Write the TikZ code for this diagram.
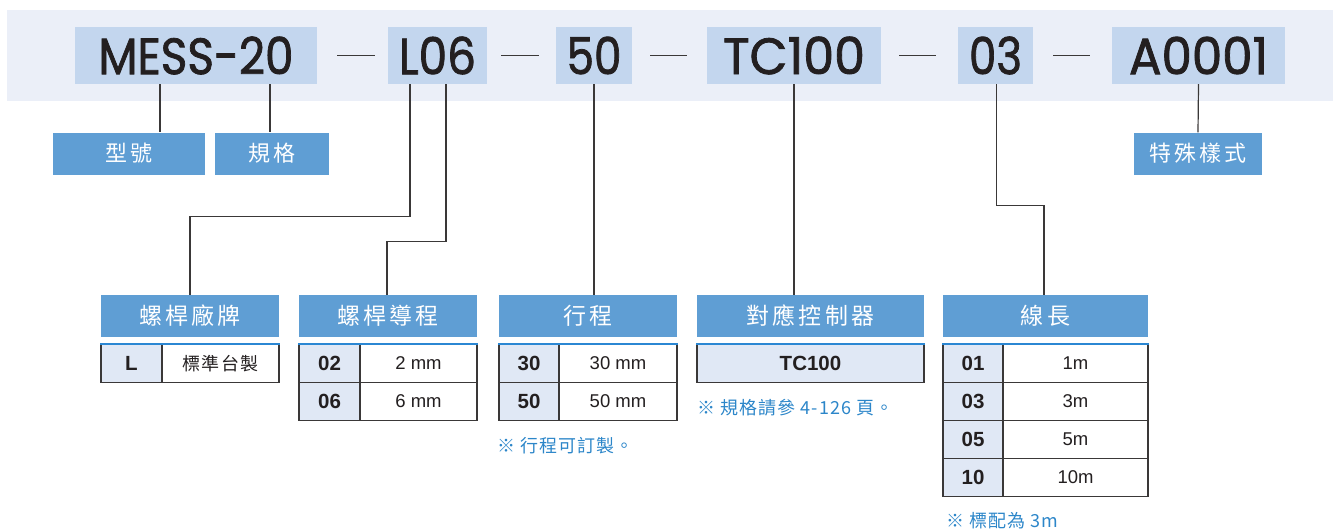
\documentclass[tikz,border=0pt]{standalone}
\usepackage{fontspec}
\usepackage{graphicx}
\newfontfamily\cjk{Noto Sans CJK TC}
\newfontfamily\cjkh[LetterSpace=14]{Noto Sans CJK TC}
\newfontfamily\cjkv[LetterSpace=8]{Noto Sans CJK TC}
\newfontfamily\cjkn[LetterSpace=6]{Noto Sans CJK TC}
\newfontfamily\arial{Liberation Sans}
\newfontfamily\codef[FakeBold=1.6]{Poppins}
\definecolor{bandcol}{HTML}{EBEFF8}
\definecolor{codefill}{HTML}{C3D6EE}
\definecolor{headfill}{HTML}{5F9ED4}
\definecolor{cellfill}{HTML}{E0E8F5}
\definecolor{linecol}{HTML}{3A3838}
\definecolor{notecol}{HTML}{2C86C9}
\definecolor{topblue}{HTML}{2B87D3}
\definecolor{inkcol}{HTML}{231F20}
\newcommand\codetxt[2]{\resizebox{#1}{\height}{\fontsize{51}{51}\codef #2}}
\tikzset{
  codebox/.style={fill=codefill, inner sep=0pt, minimum height=57pt, text=inkcol},
  labbox/.style={fill=headfill, inner sep=0pt, minimum height=42pt, text=white, font=\cjkh\fontsize{22}{22}\selectfont},
  headbox/.style={fill=headfill, inner sep=0pt, minimum height=42pt, text=white, font=\cjkh\fontsize{23}{23}\selectfont},
  keycell/.style={draw=linecol, line width=1.3pt, fill=cellfill, inner sep=0pt, minimum height=38pt, text=inkcol, font=\arial\bfseries\fontsize{20.5}{20.5}\selectfont},
  valcell/.style={draw=linecol, line width=1.3pt, fill=white, inner sep=0pt, minimum height=38pt, text=inkcol, font=\arial\fontsize{18.5}{18.5}\selectfont},
  cjkcell/.style={valcell, font=\cjkv\fontsize{18}{18}\selectfont},
  conn/.style={draw=linecol, line width=1.2pt},
  dashline/.style={draw=linecol, line width=1.3pt},
  topline/.style={draw=topblue, line width=1.6pt},
  note/.style={anchor=west, inner sep=0pt, text=notecol, font=\cjkn\fontsize{18}{18}\selectfont},
}
\begin{document}
\begin{tikzpicture}[x=1pt,y=-1pt]
\useasboundingbox (0,0) rectangle (1333,528);
\fill[bandcol] (7,10) rectangle (1333,100.7);

% top code boxes
\node[codebox, minimum width=242pt] (mess) at (196,55.5) {\codetxt{195pt}{MESS-20}};
\node[codebox, minimum width=99pt] (l06) at (437.5,55.5) {\codetxt{77pt}{L06}};
\node[codebox, minimum width=76pt] (f50) at (594,55.5) {\codetxt{55pt}{50}};
\node[codebox, minimum width=174pt] (tc) at (794,55.5) {\codetxt{142pt}{TC100}};
\node[codebox, minimum width=75pt] (c03) at (995.5,55.5) {\codetxt{53pt}{03}};
\node[codebox, minimum width=173pt] (a01) at (1198.5,55.5) {\codetxt{139pt}{A0001}};

% dashes between codes
\draw[dashline] ([xshift=20pt]mess.east) -- ([xshift=-13pt]l06.west);
\draw[dashline] ([xshift=14pt]l06.east) -- ([xshift=-17pt]f50.west);
\draw[dashline] ([xshift=18pt]f50.east) -- ([xshift=-20pt]tc.west);
\draw[dashline] ([xshift=18pt]tc.east) -- ([xshift=-22pt]c03.west);
\draw[dashline] ([xshift=20pt]c03.east) -- ([xshift=-22pt]a01.west);

% label boxes
\node[labbox, minimum width=152pt] (xh) at (129,153.5) {型號};
\node[labbox, minimum width=114pt] (gg) at (272,153.5) {規格};
\node[labbox, minimum width=128pt] (ts) at (1198,153.5) {特殊樣式};

\coordinate (k1) at (160,0);
\coordinate (k2) at (270,0);
\draw[conn] (k1 |- mess.south) -- (k1 |- xh.north);
\draw[conn] (k2 |- mess.south) -- (k2 |- gg.north);
\draw[conn] (a01.south) -- (ts.north);

% header boxes
\node[headbox, minimum width=178pt] (h1) at (190,316) {螺桿廠牌};
\node[headbox, minimum width=178pt] (h2) at (388,316) {螺桿導程};
\node[headbox, minimum width=178pt] (h3) at (588,316) {行程};
\node[headbox, minimum width=227pt] (h4) at (810.5,316) {對應控制器};
\node[headbox, minimum width=205pt] (h5) at (1045.5,316) {線長};

% connectors to headers
\draw[conn] (410,0 |- l06.south) -- (410,216.7) -- (190,216.7) -- (190,0 |- h1.north);
\draw[conn] (446,0 |- l06.south) -- (446,241.7) -- (387,241.7) -- (387,0 |- h2.north);
\draw[conn] (f50.south) -- (f50.south |- h3.north);
\draw[conn] (tc.south) -- (tc.south |- h4.north);
\draw[conn] (996.7,0 |- c03.south) -- (996.7,205.7) -- (1044,205.7) -- (1044,0 |- h5.north);

% table 1
\node[keycell, minimum width=61pt] (t1k1) at (131.5,363.5) {L};
\node[cjkcell, minimum width=117pt] (t1v1) at (220.5,363.5) {標準台製};
\draw[topline] (t1k1.north west) -- (t1v1.north east);

% table 2
\node[keycell, minimum width=61pt] (t2k1) at (329.5,363.5) {02};
\node[valcell, minimum width=117pt] (t2v1) at (418.5,363.5) {2 mm};
\node[keycell, minimum width=61pt] (t2k2) at (329.5,401.5) {06};
\node[valcell, minimum width=117pt] (t2v2) at (418.5,401.5) {6 mm};
\draw[topline] (t2k1.north west) -- (t2v1.north east);

% table 3
\node[keycell, minimum width=60pt] (t3k1) at (529,363.5) {30};
\node[valcell, minimum width=118pt] (t3v1) at (618,363.5) {30 mm};
\node[keycell, minimum width=60pt] (t3k2) at (529,401.5) {50};
\node[valcell, minimum width=118pt] (t3v2) at (618,401.5) {50 mm};
\draw[topline] (t3k1.north west) -- (t3v1.north east);

% table 4
\node[keycell, minimum width=227pt] (t4k1) at (810.5,363.5) {TC100};
\draw[topline] (t4k1.north west) -- (t4k1.north east);

% table 5
\node[keycell, minimum width=60pt] (t5k1) at (973,363.5) {01};
\node[valcell, minimum width=145pt] (t5v1) at (1075.5,363.5) {1m};
\node[keycell, minimum width=60pt] (t5k2) at (973,401.5) {03};
\node[valcell, minimum width=145pt] (t5v2) at (1075.5,401.5) {3m};
\node[keycell, minimum width=60pt] (t5k3) at (973,439.5) {05};
\node[valcell, minimum width=145pt] (t5v3) at (1075.5,439.5) {5m};
\node[keycell, minimum width=60pt] (t5k4) at (973,477.5) {10};
\node[valcell, minimum width=145pt] (t5v4) at (1075.5,477.5) {10m};
\draw[topline] (t5k1.north west) -- (t5v1.north east);

% notes
\node[note] (n3) at (497,446) {※ 行程可訂製。};
\node[note] (n4) at (697,408) {※ 規格請參 4-126 頁。};
\node[note] (n5) at (946,521) {※ 標配為 3m};
\end{tikzpicture}
\end{document}
